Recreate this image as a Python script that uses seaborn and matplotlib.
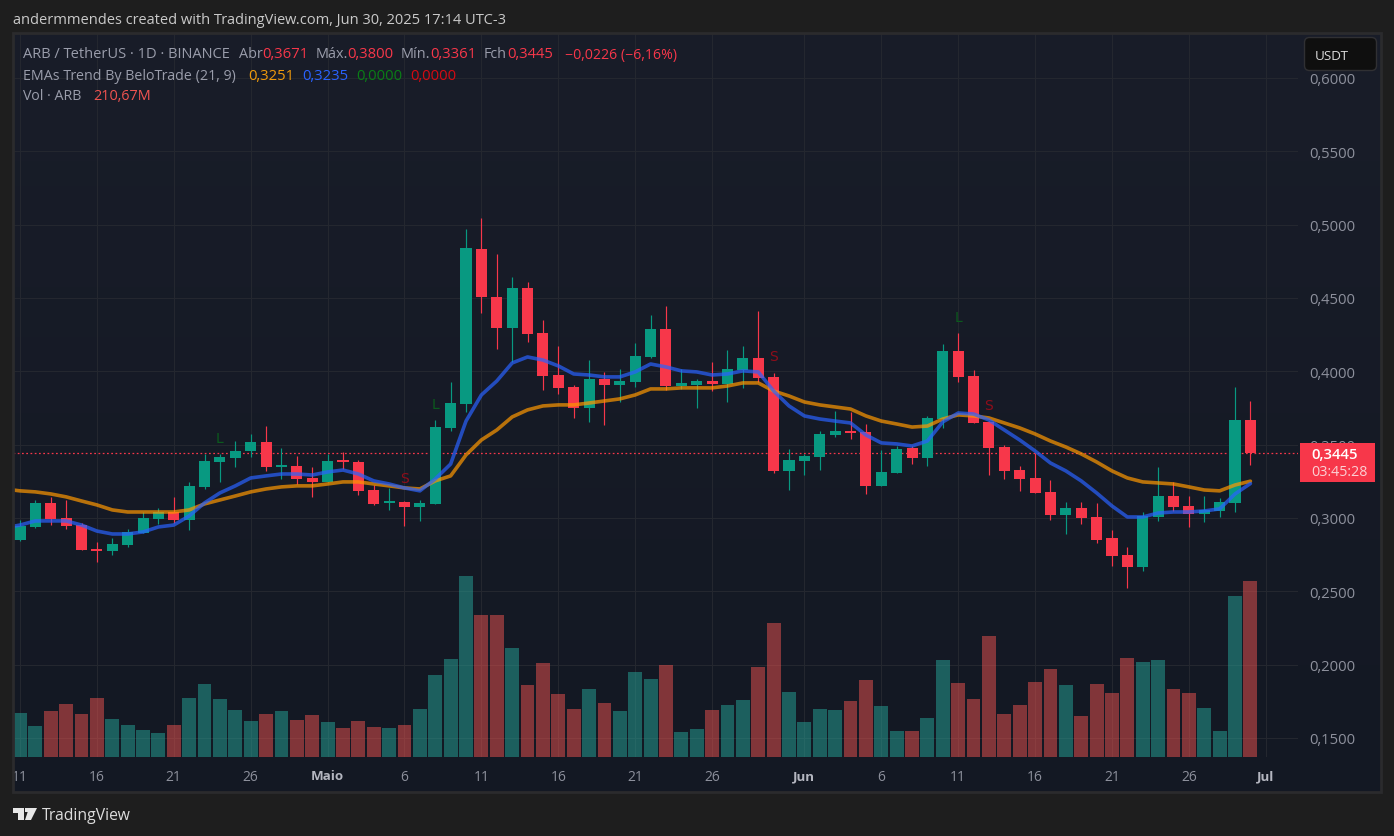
import numpy as np
import pandas as pd
import matplotlib
matplotlib.use("Agg")
import matplotlib.pyplot as plt
import seaborn as sns
from matplotlib.patches import Polygon, FancyBboxPatch, Rectangle
from matplotlib.transforms import Affine2D

# ---------- data ----------
opens = [.2850,.2939,.3103,.3000,.2952,.2789,.2775,.2816,.2898,.2993,.3041,.2986,.3212,.3382,.3410,.3457,.3519,.3348,.3355,.3273,.3246,.3389,.3382,.3191,.3103,.3110,.3075,.3096,.3614,.3777,.4834,.4507,.4296,.4569,.4262,.3975,.3894,.3750,.3948,.3907,.3928,.4098,.4289,.3900,.3907,.3934,.3914,.4009,.4091,.3962,.3321,.3389,.3416,.3566,.3593,.3587,.3219,.3307,.3478,.3410,.3675,.4139,.3968,.3655,.3484,.3327,.3273,.3178,.3021,.3068,.3007,.2864,.2748,.2666,.3007,.3150,.3082,.3028,.3048,.3103,.3671]
highs = [.2986,.3123,.3144,.3123,.2966,.2836,.2864,.2925,.3041,.3068,.3144,.3246,.3437,.3437,.3525,.3573,.3628,.3478,.3423,.3348,.3437,.3450,.3396,.3225,.3205,.3116,.3123,.3668,.3928,.4971,.5046,.4800,.4643,.4609,.4350,.4173,.3907,.4077,.3996,.4016,.4194,.4384,.4446,.4016,.3948,.4064,.4146,.4173,.4412,.3989,.3471,.3437,.3593,.3730,.3723,.3641,.3464,.3491,.3491,.3696,.4187,.4262,.4009,.3661,.3498,.3355,.3443,.3259,.3110,.3110,.3103,.2918,.2802,.3041,.3348,.3246,.3150,.3150,.3137,.3894,.3800]
lows = [.2843,.2932,.2952,.2925,.2782,.2700,.2748,.2802,.2898,.2959,.2966,.2918,.3198,.3246,.3348,.3416,.3321,.3266,.3232,.3144,.3246,.3334,.3157,.3089,.3055,.2945,.2980,.3096,.3593,.3723,.4398,.4153,.4064,.4200,.3873,.3846,.3682,.3655,.3634,.3791,.3894,.4091,.3873,.3880,.3750,.3866,.3791,.3887,.3928,.3307,.3191,.3293,.3327,.3552,.3539,.3164,.3219,.3307,.3368,.3355,.3614,.3928,.3648,.3293,.3266,.3185,.3171,.2986,.2891,.2959,.2830,.2673,.2523,.2639,.2980,.3048,.2939,.2973,.3007,.3041,.3361]
closes = [.2945,.3103,.2993,.2945,.2782,.2775,.2823,.2905,.3000,.3041,.2986,.3219,.3389,.3416,.3457,.3519,.3348,.3355,.3266,.3246,.3389,.3382,.3185,.3096,.3110,.3075,.3103,.3621,.3784,.4841,.4507,.4296,.4569,.4255,.3968,.3887,.3750,.3948,.3907,.3934,.4105,.4289,.3900,.3921,.3934,.3914,.4016,.4091,.3955,.3321,.3396,.3423,.3573,.3593,.3580,.3219,.3314,.3471,.3410,.3682,.4139,.3962,.3648,.3478,.3321,.3266,.3171,.3021,.3068,.3000,.2850,.2741,.2666,.3014,.3150,.3075,.3028,.3055,.3110,.3668,.3445]
volumes = [52.7,37.1,55.1,63.4,51.5,70.6,45.5,38.3,32.3,28.7,38.3,70.6,87.4,69.4,56.3,43.1,51.5,55.1,44.3,50.3,41.9,34.7,43.1,35.9,34.7,38.3,57.5,98.2,117.3,216.7,170.0,170.0,130.5,86.2,112.5,75.4,57.5,81.4,64.6,55.1,101.7,93.4,110.1,29.9,33.5,56.3,62.2,68.2,107.7,160.4,77.8,41.9,57.5,56.3,67.0,92.2,61.0,31.1,31.1,46.7,116.1,88.6,69.4,144.8,51.5,62.2,89.8,105.3,86.2,49.1,87.4,76.6,118.5,113.7,116.1,81.4,76.6,58.7,31.1,192.7,210.67]
# EMAs start one bar before the first candle (left edge of the pane)
ema_fast = [.2932,.2952,.2980,.2980,.2980,.2952,.2911,.2891,.2891,.2905,.2939,.2952,.3014,.3103,.3171,.3219,.3273,.3287,.3300,.3300,.3293,.3314,.3327,.3300,.3253,.3232,.3205,.3185,.3266,.3368,.3661,.3839,.3934,.4057,.4098,.4077,.4037,.3982,.3975,.3962,.3962,.3996,.4050,.4030,.4003,.3996,.3975,.3982,.4003,.3996,.3866,.3764,.3696,.3675,.3661,.3648,.3566,.3512,.3505,.3491,.3525,.3655,.3716,.3709,.3668,.3600,.3532,.3457,.3375,.3321,.3253,.3171,.3082,.3007,.3007,.3034,.3041,.3041,.3048,.3062,.3164,.3235]
ema_slow = [.3198,.3185,.3178,.3164,.3144,.3116,.3089,.3055,.3041,.3041,.3041,.3041,.3055,.3096,.3123,.3150,.3178,.3198,.3212,.3219,.3219,.3232,.3246,.3246,.3232,.3219,.3205,.3198,.3253,.3287,.3430,.3532,.3600,.3689,.3737,.3764,.3771,.3771,.3784,.3798,.3812,.3839,.3880,.3880,.3887,.3887,.3887,.3900,.3921,.3921,.3866,.3832,.3791,.3771,.3757,.3743,.3696,.3661,.3641,.3620,.3627,.3675,.3703,.3696,.3682,.3648,.3614,.3573,.3525,.3484,.3437,.3382,.3321,.3273,.3246,.3239,.3232,.3212,.3191,.3185,.3225,.3251]
signal_idx = [13, 27, 61, 25, 49, 63]
signal_val = [.3546, .3777, .4371, .3271, .4105, .3771]
signal_txt = ["L", "L", "L", "S", "S", "S"]
tick_idx = [0, 5, 10, 15, 20, 25, 30, 35, 40, 45, 51, 56, 61, 66, 71, 76, 81]
tick_lab = ["11", "16", "21", "26", "Maio", "6", "11", "16", "21", "26", "Jun", "6", "11", "16", "21", "26", "Jul"]
price_ticks = [.15, .20, .25, .30, .35, .40, .45, .50, .55, .60]
last_close = .3445

# ---------- palette ----------
OUTER = "#1e1e1e"; FRAME = "#2b2b2d"
GREEN = "#089981"; RED = "#F7374A"
TXT = "#9a9dab"; AX_TXT = "#8d909c"; GRID = "#24272f"
FONT = "Open Sans"

W, H = 1394, 837
sns.set_theme(style="dark", rc={"font.family": FONT})
fig = plt.figure(figsize=(W / 100, H / 100), dpi=100, facecolor=OUTER)
px = Affine2D().scale(1 / W, -1 / H).translate(0, 1) + fig.transFigure

def axes_px(x0, y0, x1, y1, **kw):
    return fig.add_axes([x0 / W, 1 - y1 / H, (x1 - x0) / W, (y1 - y0) / H], **kw)

# pane background with its soft vertical gradient
bg = axes_px(13, 35, 1381, 793)
bg.imshow(np.linspace(0, 1, 256)[:, None, None] * np.array([[[-6, -5, -6]]]) / 255 + np.array([[[25, 29, 41]]]) / 255,
          aspect="auto", extent=(0, 1, 0, 1), zorder=0)
bg.axis("off")
fig.add_artist(Rectangle((13, 34), 1368, 759, transform=px, fill=False, ec=FRAME, lw=2, zorder=1))

# ---------- price pane ----------
XPX0, XSTEP = 20.0, 15.38
xlim = ((13 - XPX0) / XSTEP, (1298.5 - XPX0) / XSTEP)
PPX = 1466.7
ylim = (.15 - (758 - 739) / PPX, .15 + (739 - 35) / PPX)

ax = axes_px(13, 35, 1298.5, 758)
ax.patch.set_alpha(0)
for s in ax.spines.values():
    s.set_visible(False)

idx = np.arange(len(opens))
df = pd.DataFrame({"i": idx, "o": opens, "h": highs, "l": lows, "c": closes, "v": volumes})
df["dir"] = np.where(df.c >= df.o, "up", "down")
colors = df["dir"].map({"up": GREEN, "down": RED}).to_numpy()

ax.vlines(df.i, df.l, df.h, colors=colors, lw=0.85, zorder=3)
ax.bar(df.i, (df.c - df.o).abs().clip(lower=0.0016), bottom=df[["o", "c"]].min(axis=1),
       width=0.72, color=colors, linewidth=0, zorder=4)

ema_x = np.arange(-1, len(opens))
ema_df = pd.DataFrame({"i": np.r_[ema_x, ema_x],
                       "v": np.r_[ema_fast, ema_slow],
                       "s": ["fast"] * len(ema_x) + ["slow"] * len(ema_x)})
sns.lineplot(data=ema_df, x="i", y="v", hue="s", palette={"fast": "#2962FF", "slow": "#FF9800"},
             hue_order=["slow", "fast"], lw=2.6, alpha=0.7, legend=False, ax=ax, zorder=5, errorbar=None)
ax.set_xlabel(""); ax.set_ylabel("")

for i, v, s in zip(signal_idx, signal_val, signal_txt):
    ax.text(i, v, s, color="#0b5a1d" if s == "L" else "#8f0d1a", fontsize=10, ha="center", va="center",
            family="DejaVu Sans", zorder=6)

ax.axhline(last_close, color=RED, lw=0.9, ls=(0, (1.4, 2.0)), zorder=2.5)

ax.set_xlim(xlim); ax.set_ylim(ylim)
ax.set_xticks(tick_idx)
ax.set_xticklabels(tick_lab)
for lab in ax.get_xticklabels():
    named = lab.get_text() in ("Maio", "Jun", "Jul")
    lab.set_color("#b4b6c0" if named else AX_TXT)
    lab.set_fontweight("bold" if named else "normal")
    lab.set_fontsize(9.6 if named else 10)
ax.set_yticks(price_ticks)
ax.set_yticklabels([f"{p:.4f}".replace(".", ",") for p in price_ticks], fontsize=10.7, color=AX_TXT)
ax.yaxis.tick_right()
ax.tick_params(axis="both", length=0)
ax.tick_params(axis="y", pad=8)
ax.tick_params(axis="x", pad=9)
ax.grid(True, color=GRID, lw=0.8, zorder=1)
ax.set_axisbelow(True)

# ---------- volume pane ----------
VOL_PER_PX = 210.67 / 176
ax_v = axes_px(13, 35, 1298.5, 758)
ax_v.patch.set_alpha(0)
sns.barplot(data=df, x="i", y="v", hue="dir", palette={"up": "#26a69a", "down": "#ef5350"},
            native_scale=True, dodge=False, width=0.9, saturation=1, alpha=0.5, linewidth=0,
            legend=False, ax=ax_v)
ax_v.set_xlim(xlim); ax_v.set_ylim(0, (758 - 35) * VOL_PER_PX)
ax_v.axis("off")

# ---------- overlay labels ----------
def t(x, y, s, color=TXT, size=10.5, weight="normal", **kw):
    return fig.text(x, y, s, transform=px, color=color, fontsize=size, fontweight=weight,
                    va="center", ha=kw.pop("ha", "left"), zorder=20, **kw)

t(13, 21, "andermmendes created with TradingView.com, Jun 30, 2025 17:14 UTC-3", color="#c9c9c9", size=10.5)

t(23, 55, "ARB / TetherUS · 1D · BINANCE")
for x, s, c in [(239, "Abr", TXT), (262, "0,3671", RED), (316, "Máx.", TXT), (347, "0,3800", RED),
                (401, "Mín.", TXT), (430, "0,3361", RED), (484, "Fch", TXT), (507, "0,3445", RED),
                (565, "−0,0226 (−6,16%)", RED)]:
    t(x, 55, s, color=c, size=10.4 if c == TXT else 10.7 if x != 565 else 10.2)
t(23, 76, "EMAs Trend By BeloTrade (21, 9)", size=10.3)
for x, s, c in [(248, "0,3251", "#ef9a0c"), (302, "0,3235", "#2962FF"), (356, "0,0000", "#0a7d16"), (410, "0,0000", "#d50a12")]:
    t(x, 76, s, color=c, size=10.7)
t(23, 96, "Vol · ARB", size=10.3)
t(93, 96, "210,67M", color="#ef5350", size=10.4)

# USDT button: masks the top of the 0,6000 label, as in the reference
fig.add_artist(Rectangle((1300, 60), 79, 15, transform=px, fc="#181c28", ec="none", zorder=9))
fig.add_artist(FancyBboxPatch((1304.5, 38.5), 72, 33, boxstyle="round,pad=0,rounding_size=5", mutation_scale=1,
                              transform=px, fc="#0f0f0f", ec="#303033", lw=1, zorder=11))
t(1315, 56, "USDT", color="#dcdcdc", size=9.6)

# last price tag
fig.add_artist(Rectangle((1300, 444), 75, 39, transform=px, fc=RED, ec="none", zorder=12))
t(1311, 455, "0,3445", color="#ffffff", size=10.7, weight="semibold")
t(1311, 473, "03:45:28", color="#fbd0d4", size=10.3)

# TradingView logo
for poly in ([(13, 809), (24, 809), (24, 821), (18, 821), (18, 814), (13, 814)],
             [(29, 809), (37, 809), (31, 821), (25, 821)]):
    fig.add_artist(Polygon(poly, closed=True, transform=px, fc="#e6e6e6", ec="none", zorder=20))
fig.add_artist(Polygon([(24.5, 809), (28.5, 809), (28.5, 813), (24.5, 813)], closed=True, transform=px,
                       fc="#e6e6e6", ec="none", zorder=20))
t(42, 816, "TradingView", color="#dcdcdc", size=11.3)

fig.savefig("out.png", dpi=100, facecolor=OUTER)
